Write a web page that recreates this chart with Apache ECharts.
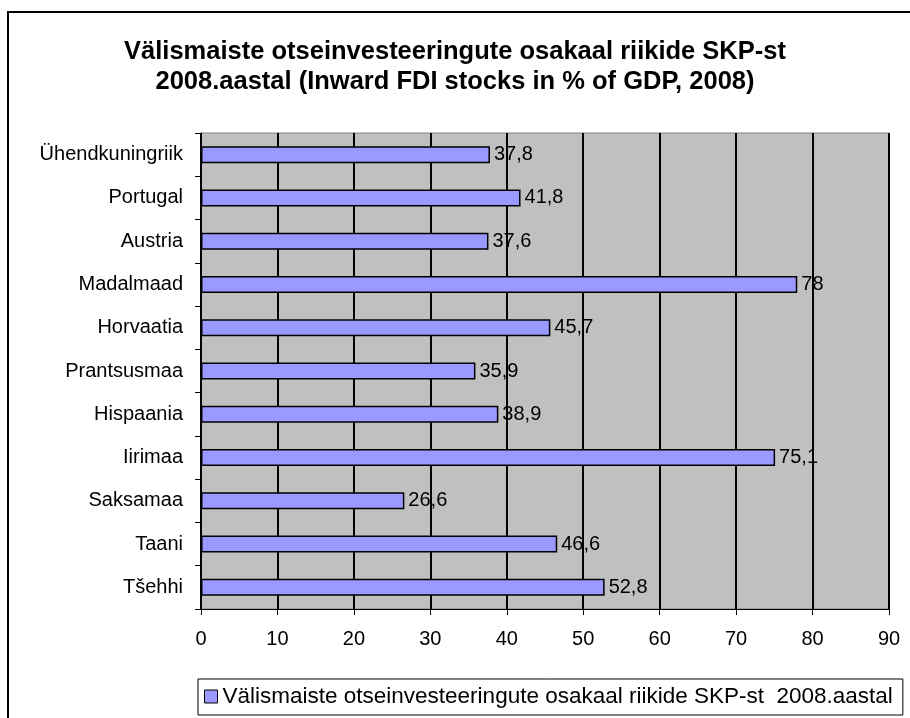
<!DOCTYPE html>
<html>
<head>
<meta charset="utf-8">
<script src="https://cdn.jsdelivr.net/npm/echarts@6/dist/echarts.min.js"></script>
<style>
  html, body { margin: 0; padding: 0; background: #fff; }
  #chart { width: 910px; height: 718px; }
</style>
</head>
<body>
<div id="chart"></div>
<script>
// chart order top to bottom
const countries = ['Ühendkuningriik', 'Portugal', 'Austria', 'Madalmaad', 'Horvaatia',
  'Prantsusmaa', 'Hispaania', 'Iirimaa', 'Saksamaa', 'Taani', 'Tšehhi'];
const fdiShare = [37.8, 41.8, 37.6, 78, 45.7, 35.9, 38.9, 75.1, 26.6, 46.6, 52.8];
const seriesName = 'Välismaiste otseinvesteeringute osakaal riikide SKP-st  2008.aastal';
const titleText = 'Välismaiste otseinvesteeringute osakaal riikide SKP-st\n2008.aastal (Inward FDI stocks in % of GDP, 2008)';

const font = '"Liberation Sans", Arial, sans-serif';
const chart = echarts.init(document.getElementById('chart'));

const option = {
  backgroundColor: '#ffffff',
  textStyle: { fontFamily: font },
  animation: false,
  title: {
    text: titleText,
    left: 'center',
    top: 32,
    textStyle: {
      fontFamily: font,
      fontSize: 25.5,
      fontWeight: 'bold',
      color: '#000',
      lineHeight: 30,
    },
  },
  graphic: [{
    type: 'rect',
    shape: { x: 8, y: 12, width: 940, height: 760 },
    style: { fill: 'none', stroke: '#000', lineWidth: 2 },
    silent: true,
  }],
  grid: {
    left: 201,
    top: 133,
    right: 21,
    bottom: 109,
    containLabel: false,
    show: true,
    backgroundColor: '#c0c0c0',
    borderColor: '#808080',
    borderWidth: 1,
  },
  legend: {
    left: 198,
    top: 679,
    padding: [6, 10, 7, 6],
    borderColor: '#000',
    borderWidth: 1,
    itemWidth: 13,
    itemHeight: 13,
    itemGap: 6,
    textStyle: { fontFamily: font, fontSize: 22.5, color: '#000' },
    data: [{ name: seriesName, icon: 'rect', itemStyle: { borderColor: '#000', borderWidth: 1 } }],
  },
  xAxis: {
    type: 'value',
    min: 0,
    max: 90,
    interval: 10,
    axisLine: { show: true, lineStyle: { color: '#000', width: 1 } },
    axisTick: { show: true, length: 6, lineStyle: { color: '#000' } },
    axisLabel: { color: '#000', fontSize: 20, margin: 20, fontFamily: font },
    splitLine: { show: true, lineStyle: { color: '#000', width: 2 } },
  },
  yAxis: {
    type: 'category',
    inverse: true,
    data: countries,
    axisLine: { show: true, lineStyle: { color: '#000', width: 1 } },
    axisTick: { show: true, length: 6, lineStyle: { color: '#000' } },
    axisLabel: { color: '#000', fontSize: 20, margin: 18, fontFamily: font },
    splitLine: { show: false },
  },
  series: [{
    name: seriesName,
    type: 'bar',
    data: fdiShare,
    barWidth: 17,
    itemStyle: { color: '#9999ff', borderColor: '#000', borderWidth: 1.5 },
    label: {
      show: true,
      position: 'right',
      distance: 4,
      color: '#000',
      fontSize: 20,
      fontFamily: font,
      formatter: (p) => String(p.value).replace('.', ','),
    },
  }],
};

chart.setOption(option);
</script>
</body>
</html>
